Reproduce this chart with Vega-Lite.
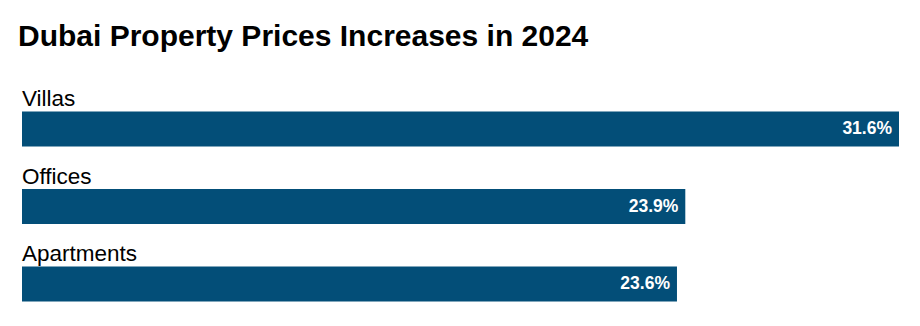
{
  "$schema": "https://vega.github.io/schema/vega-lite/v6.json",
  "autosize": {"type": "none"},
  "width": 877,
  "height": 232.5,
  "padding": {"left": 22, "top": 90.25, "right": 21, "bottom": 3.25},
  "background": "#ffffff",
  "title": {
    "text": "Dubai Property Prices Increases in 2024",
    "anchor": "start",
    "frame": "group",
    "font": "Liberation Sans",
    "fontSize": 30,
    "fontWeight": "bold",
    "color": "#000000",
    "baseline": "alphabetic",
    "offset": 12,
    "dx": -4
  },
  "config": {"view": {"stroke": null}},
  "data": {
    "values": [
      {"type": "Villas", "value": 31.6, "label": "31.6%"},
      {"type": "Offices", "value": 23.9, "label": "23.9%"},
      {"type": "Apartments", "value": 23.6, "label": "23.6%"}
    ]
  },
  "encoding": {
    "y": {"field": "type", "type": "nominal", "sort": null, "axis": null,
          "scale": {"paddingInner": 0, "paddingOuter": 0}},
    "x": {"field": "value", "type": "quantitative", "axis": null,
          "scale": {"domain": [0, 31.6], "nice": false, "zero": true}}
  },
  "layer": [
    {"mark": {"type": "bar", "size": 35, "color": "#034e78"}},
    {"mark": {"type": "text", "align": "right", "baseline": "middle", "dx": -7,
              "font": "Liberation Sans", "fontSize": 17.5, "fontWeight": "bold", "color": "#ffffff"},
     "encoding": {"text": {"field": "label"}}},
    {"mark": {"type": "text", "align": "left", "baseline": "alphabetic", "yOffset": -23,
              "font": "Liberation Sans", "fontSize": 22.5, "color": "#000000"},
     "encoding": {"text": {"field": "type"}, "x": {"value": 0}}}
  ]
}
